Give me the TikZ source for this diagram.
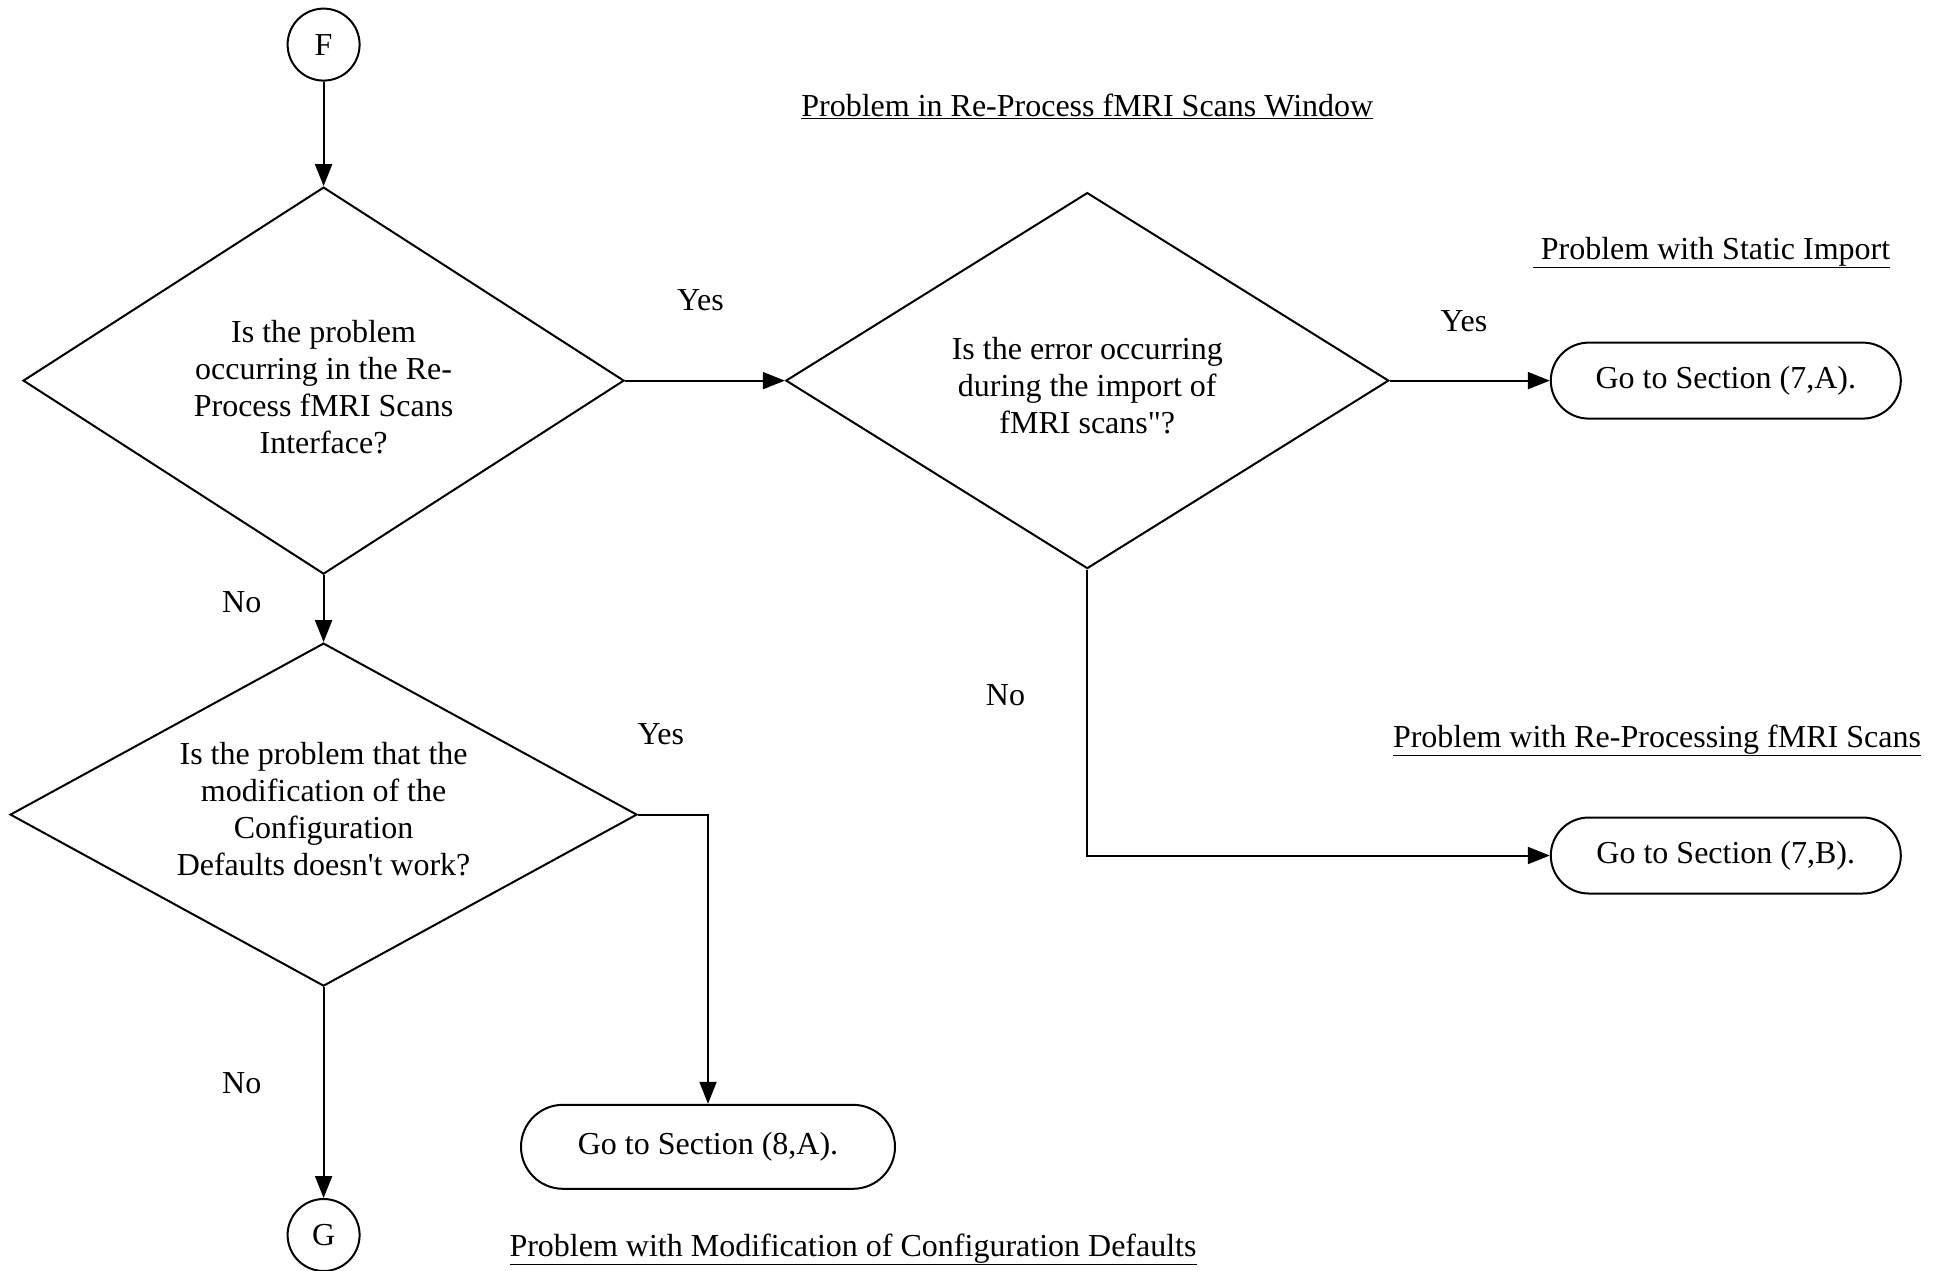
\documentclass[tikz,border=0pt]{standalone}
\usepackage{fontspec}
\setmainfont{Liberation Serif}[Ligatures=TeXOff]
\usetikzlibrary{shapes.geometric,arrows.meta}

\begin{document}
\begin{tikzpicture}[x=1pt,y=-1pt,
  every node/.style={font=\fontsize{32}{37}\selectfont},
  decision/.style={draw, shape=diamond, line width=2pt, inner sep=0pt, aspect=1.6},
  question/.style={align=center, inner sep=0pt},
  terminal/.style={draw, rectangle, line width=2pt, inner sep=0pt},
  connector/.style={draw, circle, line width=2pt, minimum size=72pt, inner sep=0pt},
  flow/.style={line width=2pt, -{Triangle[length=22pt,width=17pt]}},
  lbl/.style={inner sep=0pt},
  heading/.style={anchor=base, inner sep=0pt}
]
\fill[white] (0,0) rectangle (1944,1270);
\useasboundingbox (0,0) rectangle (1944,1270);

% connectors to other pages
\node[connector] (F) at (323.6,44.6) {F};
\node[connector] (G) at (323.6,1235) {G};

% decisions
\node[decision, minimum width=601pt, minimum height=387pt] (d1) at (323.6,380.6) {};
\node[question] (q1) at (323.6,386.8)
  {Is the problem\\occurring in the Re-\\Process fMRI Scans\\Interface?};
\node[decision, minimum width=603pt, minimum height=376pt] (d2) at (1087.3,380.6) {};
\node[question] (q2) at (1087.3,385.6)
  {Is the error occurring\\during the import of\\fMRI scans"?};
\node[decision, minimum width=627pt, minimum height=343pt] (d3) at (323.6,814.6) {};
\node[question] (q3) at (323.6,809.6)
  {Is the problem that the\\modification of the\\Configuration\\Defaults doesn't work?};

% outcomes
\node[terminal, minimum width=350pt, minimum height=76pt, rounded corners=38pt] (t1)
  at (1725.8,380.6) {Go to Section (7,A).};
\node[terminal, minimum width=350pt, minimum height=76pt, rounded corners=38pt] (t2)
  at (1725.8,855.5) {Go to Section (7,B).};
\node[terminal, minimum width=374pt, minimum height=84pt, rounded corners=42pt] (t3)
  at (708,1146.8) {Go to Section (8,A).};

% section headings
\node[heading] (h1) at (1087.3,116) {\underline{Problem in Re-Process fMRI Scans Window}};
\node[heading] (h2) at (1711.5,259) {\underline{\ Problem with Static Import}};
\node[heading] (h3) at (1657,747) {\underline{Problem with Re-Processing fMRI Scans}};
\node[heading] (h4) at (853,1256) {\underline{Problem with Modification of Configuration Defaults}};

% flow
\draw[flow] (F) -- (d1.north);
\draw[flow] (d1.east) -- (d2.west);
\draw[flow] (d2.east) -- (t1.west);
\draw[flow] (d2.south) |- (t2.west);
\draw[flow] (d1.south) -- (d3.north);
\draw[flow] (d3.east) -| (t3.north);
\draw[flow] (d3.south) -- (G);

% branch labels
\node[lbl] (y1) at (700.5,300) {Yes};
\node[lbl] (y2) at (1464,321) {Yes};
\node[lbl] (n2) at (1005.5,695.5) {No};
\node[lbl] (n1) at (241.8,602.5) {No};
\node[lbl] (y3) at (660.8,734) {Yes};
\node[lbl] (n3) at (241.8,1083.6) {No};
\end{tikzpicture}
\end{document}
